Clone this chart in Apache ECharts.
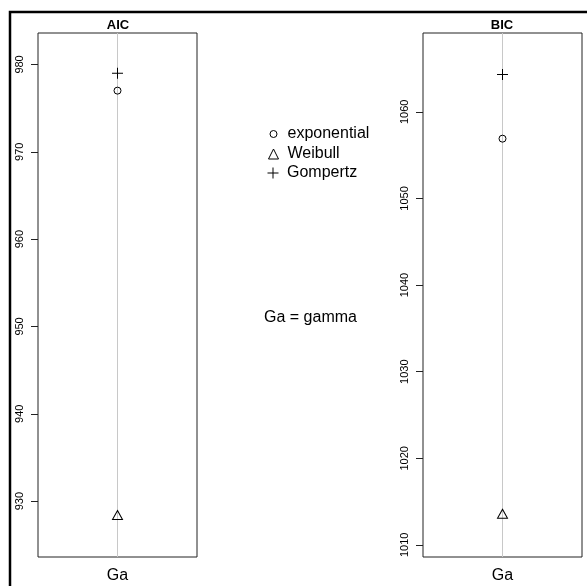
<!DOCTYPE html>
<html>
<head>
<meta charset="utf-8">
<title>AIC / BIC</title>
<script src="https://cdn.jsdelivr.net/npm/echarts@6/dist/echarts.min.js"></script>
<style>
  html, body { margin: 0; padding: 0; background: #fff; }
  #chart { width: 587px; height: 586px; }
</style>
</head>
<body>
<div id="chart"></div>
<script>
// data
const categories = ['Ga']
const models = ['exponential', 'Weibull', 'Gompertz']
const aicValues = [977.0, 928.4, 979.0]
const bicValues = [1056.9, 1013.6, 1064.3]
const aicTicks = [930, 940, 950, 960, 970, 980]
const bicTicks = [1010, 1020, 1030, 1040, 1050, 1060]
const aicRange = [923.6, 983.6]
const bicRange = [1008.6, 1069.1]

const font = 'Liberation Sans, Arial, sans-serif'
const plusPath = 'path://M10,0H12V10H22V12H12V22H10V12H0V10H10Z'

// marker look per model
const markers = {
  exponential: { symbol: 'circle', size: 7, fill: 'rgba(0,0,0,0)', border: 1 },
  Weibull: { symbol: 'triangle', size: [10, 9], fill: 'rgba(0,0,0,0)', border: 1 },
  Gompertz: { symbol: plusPath, size: 11, fill: '#000', border: 0 }
}

let myChart = echarts.init(document.getElementById('chart'))

const makeGrid = (left) => ({
  left: left,
  top: 33,
  width: 159,
  height: 524,
  show: true,
  borderColor: '#222',
  borderWidth: 1,
  backgroundColor: 'rgba(0,0,0,0)'
})

const makeXAxis = (idx) => ({
  type: 'category',
  gridIndex: idx,
  data: categories,
  boundaryGap: true,
  axisLine: { show: false },
  axisTick: { show: false },
  splitLine: { show: false },
  axisLabel: { fontSize: 16, fontFamily: font, color: '#000', margin: 11 }
})

const makeYAxis = (idx, range, ticks) => ({
  type: 'value',
  gridIndex: idx,
  min: range[0],
  max: range[1],
  axisLine: { show: false },
  splitLine: { show: false },
  axisTick: {
    show: true,
    length: 7,
    customValues: ticks,
    lineStyle: { color: '#222', width: 1 }
  },
  axisLabel: {
    rotate: 90,
    margin: 13,
    fontSize: 11,
    fontFamily: font,
    color: '#000',
    customValues: ticks,
    formatter: (v) => String(v)
  }
})

let series = []
const addSeries = (idx, values) => {
  models.forEach((m, i) => {
    let mk = markers[m]
    let s = {
      name: m,
      type: 'scatter',
      xAxisIndex: idx,
      yAxisIndex: idx,
      data: [[categories[0], values[i]]],
      symbol: mk.symbol,
      symbolSize: mk.size,
      z: 3,
      itemStyle: { color: mk.fill, borderColor: '#000', borderWidth: mk.border, opacity: 1 },
      emphasis: { disabled: true }
    }
    if (i === 0) {
      // grey vertical line through the category
      s.markLine = {
        silent: true,
        symbol: 'none',
        label: { show: false },
        lineStyle: { color: '#c8c8c8', width: 1, type: 'solid' },
        emphasis: { disabled: true },
        z: 1,
        data: [{ xAxis: categories[0] }]
      }
    }
    series.push(s)
  })
}
addSeries(0, aicValues)
addSeries(1, bicValues)

// one small legend per model so each icon keeps its own size
const legendTops = [126, 146, 165]
const legendSizes = [7, 10, 11]
let legends = models.map((m, i) => ({
  data: [{
    name: m,
    icon: markers[m].symbol,
    itemStyle: { color: markers[m].fill, borderColor: '#000', borderWidth: markers[m].border }
  }],
  left: 273 - legendSizes[i] / 2,
  top: legendTops[i],
  padding: 0,
  itemWidth: legendSizes[i],
  itemHeight: legendSizes[i],
  symbolKeepAspect: true,
  selectedMode: false,
  textStyle: {
    fontSize: 16, fontFamily: font, color: '#000', lineHeight: 16,
    padding: [0, 0, 0, 9 - legendSizes[i] / 2]
  }
}))

let option = {
  backgroundColor: '#fff',
  animation: false,
  title: [
    { text: 'AIC', left: 118, top: 19, textAlign: 'center', padding: 0,
      textStyle: { fontSize: 13, fontWeight: 'bold', fontFamily: font, color: '#000', lineHeight: 13 } },
    { text: 'BIC', left: 502, top: 19, textAlign: 'center', padding: 0,
      textStyle: { fontSize: 13, fontWeight: 'bold', fontFamily: font, color: '#000', lineHeight: 13 } },
    { text: 'Ga = gamma', left: 264, top: 310, padding: 0,
      textStyle: { fontSize: 16, fontWeight: 'normal', fontFamily: font, color: '#000', lineHeight: 16 } }
  ],
  legend: legends,
  grid: [makeGrid(38), makeGrid(423)],
  xAxis: [makeXAxis(0), makeXAxis(1)],
  yAxis: [makeYAxis(0, aicRange, aicTicks), makeYAxis(1, bicRange, bicTicks)],
  series: series,
  // thick outer frame, runs off the right and bottom edge
  graphic: [{
    type: 'rect',
    silent: true,
    shape: { x: 10, y: 12, width: 700, height: 700 },
    style: { fill: 'none', stroke: '#000', lineWidth: 2.5 }
  }]
}

myChart.setOption(option)
</script>
</body>
</html>
